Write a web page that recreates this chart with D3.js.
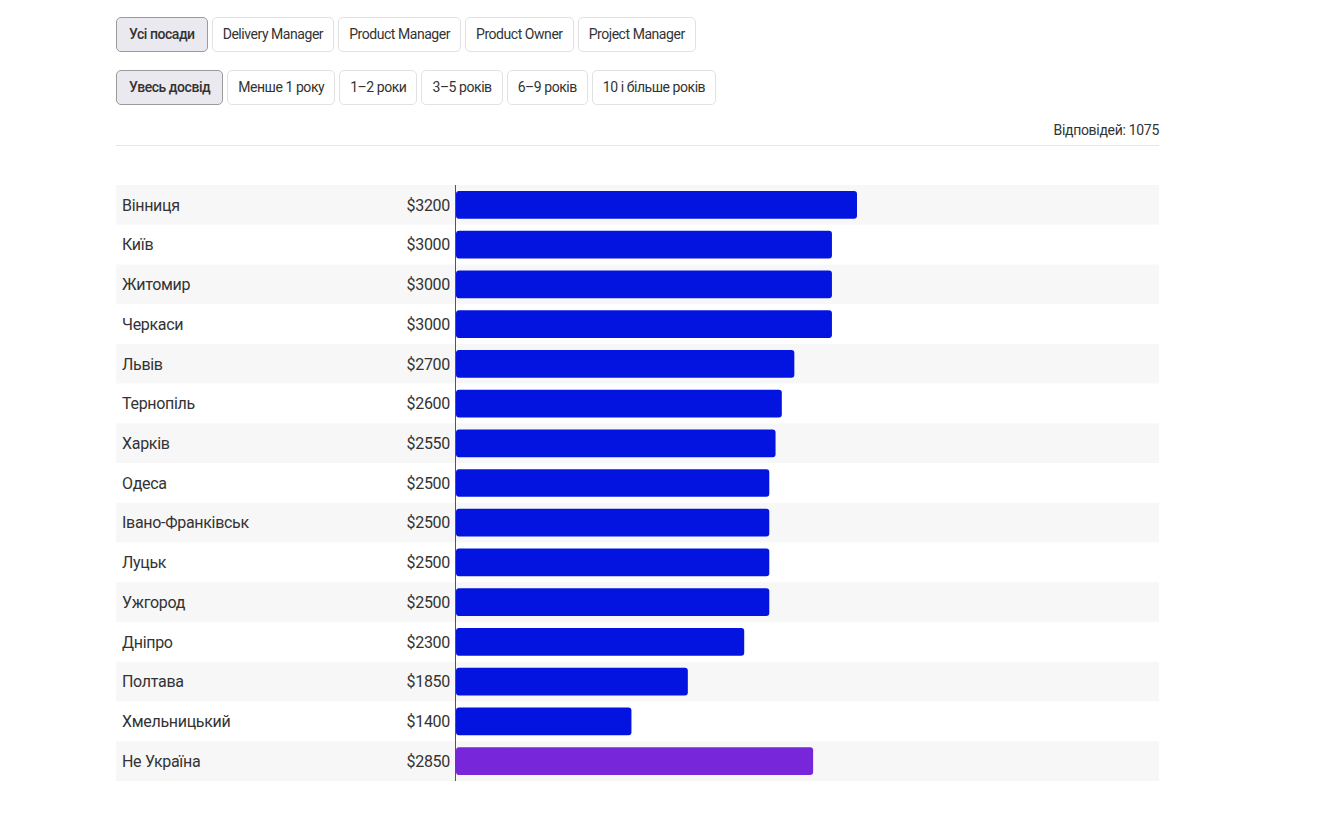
<!DOCTYPE html>
<html>
<head>
<meta charset="utf-8">
<script src="https://cdn.jsdelivr.net/npm/d3@7"></script>
<style>
  body { margin: 0; font-family: Roboto, "Noto Sans", sans-serif; color: #333; background: #fff; }
  #wrap { position: absolute; left: 116px; top: 17px; width: 1043px; }
  .btns { display: flex; gap: 4px; height: 35px; margin-bottom: 18px; }
  .btn { box-sizing: border-box; height: 35px; line-height: 33px; padding: 0 10px;
         border: 1px solid #e2e2e2; border-radius: 5px; background: #fff;
         font-size: 14px; letter-spacing: -0.45px; color: #333; white-space: nowrap; }
  .btn.active { background: #e9e9ef; border-color: #9a9a9a; font-weight: 500; padding: 0 12px; }
  #count { text-align: right; font-size: 14px; letter-spacing: -0.3px; color: #333;
           margin-top: -1px; padding-bottom: 7px; border-bottom: 1px solid #e6e6e6; }
  svg { display: block; margin-top: 39px; }
</style>
</head>
<body>
<div id="wrap"></div>
<script>
const positions = ["Усі посади", "Delivery Manager", "Product Manager", "Product Owner", "Project Manager"];
const experience = ["Увесь досвід", "Менше 1 року", "1–2 роки", "3–5 років", "6–9 років", "10 і більше років"];
const answers = 1075;

const cities = ["Вінниця", "Київ", "Житомир", "Черкаси", "Львів", "Тернопіль", "Харків", "Одеса",
                "Івано-Франківськ", "Луцьк", "Ужгород", "Дніпро", "Полтава", "Хмельницький", "Не Україна"];
const salaries = [3200, 3000, 3000, 3000, 2700, 2600, 2550, 2500, 2500, 2500, 2500, 2300, 1850, 1400, 2850];

const w = 1043;
const h = 596;
const axisX = 339;

const wrap = d3.select("#wrap");

[positions, experience].forEach(function(list) {
    wrap.append("div").attr("class", "btns")
        .selectAll("div")
        .data(list)
        .join("div")
        .attr("class", (d, i) => i === 0 ? "btn active" : "btn")
        .text(d => d);
});

wrap.append("div").attr("id", "count").text("Відповідей: " + answers);

const data = cities.map((c, i) => ({city: c, value: salaries[i]}));

const svg = wrap.append("svg")
    .attr("width", w)
    .attr("height", h);

const yScale = d3.scaleBand()
    .domain(cities)
    .range([0, h]);

const xScale = d3.scaleLinear()
    .domain([0, 3200])
    .range([0, 401]);

//striped rows
svg.selectAll("rect.row")
    .data(data)
    .join("rect")
    .attr("class", "row")
    .attr("x", 0)
    .attr("y", d => yScale(d.city))
    .attr("width", w)
    .attr("height", yScale.bandwidth())
    .attr("fill", (d, i) => i % 2 === 0 ? "#f7f7f7" : "#fff");

//bars
svg.selectAll("rect.bar")
    .data(data)
    .join("rect")
    .attr("class", "bar")
    .attr("x", axisX + 1)
    .attr("y", d => yScale(d.city) + 6)
    .attr("width", d => xScale(d.value))
    .attr("height", yScale.bandwidth() - 12)
    .attr("rx", 3)
    .attr("fill", d => d.city === "Не Україна" ? "#7726d9" : "#0314e0");

//city names
svg.selectAll("text.city")
    .data(data)
    .join("text")
    .attr("class", "city")
    .attr("x", 6)
    .attr("y", d => yScale(d.city) + yScale.bandwidth() / 2)
    .attr("dy", "0.36em")
    .attr("font-size", "16px")
    .attr("letter-spacing", "-0.3px")
    .attr("fill", "#333")
    .text(d => d.city);

//values
svg.selectAll("text.val")
    .data(data)
    .join("text")
    .attr("class", "val")
    .attr("x", axisX - 5)
    .attr("y", d => yScale(d.city) + yScale.bandwidth() / 2)
    .attr("dy", "0.36em")
    .attr("text-anchor", "end")
    .attr("font-size", "16px")
    .attr("letter-spacing", "-0.3px")
    .attr("fill", "#333")
    .text(d => "$" + d.value);

svg.append("line")
    .attr("x1", axisX + 0.5)
    .attr("x2", axisX + 0.5)
    .attr("y1", 0)
    .attr("y2", h)
    .attr("stroke", "#555")
    .attr("stroke-width", 1);
</script>
</body>
</html>
